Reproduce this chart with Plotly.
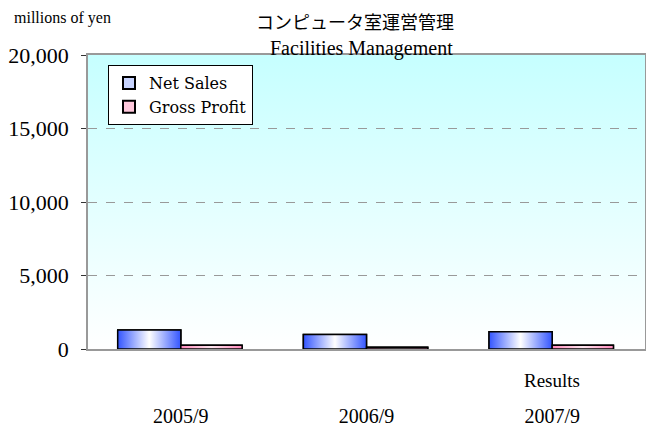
import base64
import plotly.graph_objects as go

categories = ["2005/9", "2006/9", "2007/9"]
net_sales = [1300, 980, 1180]
gross_profit = [250, 120, 250]
y_ticks = [0, 5000, 10000, 15000, 20000]

SERIF = "Liberation Serif"
JP = "Noto Sans CJK JP"

PLOT_L, PLOT_R, PLOT_T, PLOT_B = 88, 645, 55, 349
PW, PH = PLOT_R - PLOT_L, PLOT_B - PLOT_T

def px(x):
    return (x - PLOT_L) / PW

def py(y):
    return (PLOT_B - y) / PH

xs = list(range(len(categories)))
NS_OFF, NS_W = -0.34, 0.34
GP_OFF, GP_W = 0.0, 0.33

fig = go.Figure()

fig.add_trace(go.Bar(x=xs, y=net_sales, name="Net Sales", offset=NS_OFF, width=NS_W,
                     marker=dict(color="#c8d4ff", line=dict(color="black", width=1.5))))
fig.add_trace(go.Bar(x=xs, y=gross_profit, name="Gross Profit", offset=GP_OFF, width=GP_W,
                     marker=dict(color="#ffc8dc", line=dict(color="black", width=1.5))))

blue_scale = [[0, "#3355ff"], [0.5, "#ffffff"], [1, "#3355ff"]]
pink_scale = [[0, "#ff88bb"], [0.5, "#ffe8f0"], [1, "#ff88bb"]]

def add_grad_bar(i, v, off, w, scale):
    x0, x1 = i + off, i + off + w
    fig.add_trace(go.Scatter(
        x=[x0, x0, x1, x1, x0], y=[0, v, v, 0, 0], mode="lines", fill="toself",
        fillgradient=dict(type="horizontal", colorscale=scale),
        line=dict(color="black", width=1.5), showlegend=False, hoverinfo="skip"))

for i, v in zip(xs, net_sales):
    add_grad_bar(i, v, NS_OFF, NS_W, blue_scale)
for i, v in zip(xs, gross_profit):
    add_grad_bar(i, v, GP_OFF, GP_W, pink_scale)

svg = ('<svg xmlns="http://www.w3.org/2000/svg" width="100" height="100" preserveAspectRatio="none">'
       '<defs><linearGradient id="g" x1="0" y1="0" x2="0" y2="1">'
       '<stop offset="0" stop-color="#c6ffff"/><stop offset="1" stop-color="#ffffff"/>'
       '</linearGradient></defs><rect width="100" height="100" fill="url(#g)"/></svg>')
src = "data:image/svg+xml;base64," + base64.b64encode(svg.encode()).decode()

fig.update_layout(
    width=646, height=427,
    margin=dict(l=PLOT_L, r=646 - PLOT_R, t=PLOT_T, b=427 - PLOT_B, autoexpand=False),
    paper_bgcolor="white", plot_bgcolor="rgba(0,0,0,0)",
    barmode="overlay",
    font=dict(family=SERIF, size=18, color="black"),
    images=[dict(source=src, xref="paper", yref="paper", x=0, y=1, sizex=1, sizey=1,
                 sizing="stretch", layer="below")],
    legend=dict(x=px(108), y=py(65), xanchor="left", yanchor="top", bgcolor="white",
                bordercolor="black", borderwidth=1, font=dict(family="DejaVu Serif", size=16),
                itemsizing="constant", tracegroupgap=0, itemwidth=30),
    showlegend=True,
    annotations=[
        dict(text="millions of yen", xref="paper", yref="paper", x=px(12), y=py(18),
             xanchor="left", yanchor="middle", showarrow=False, font=dict(family=SERIF, size=16)),
        dict(text="コンピュータ室運営管理", xref="paper", yref="paper", x=px(355), y=py(21),
             xanchor="center", yanchor="middle", showarrow=False, font=dict(family=JP, size=18)),
        dict(text="Facilities Management", xref="paper", yref="paper", x=px(361), y=py(48),
             xanchor="center", yanchor="middle", showarrow=False, font=dict(family=SERIF, size=20)),
        dict(text="Results", xref="x", yref="paper", x=2, y=py(380),
             xanchor="center", yanchor="middle", showarrow=False, font=dict(family=SERIF, size=19)),
    ],
)

fig.update_xaxes(range=[-0.5, 2.5], tickvals=xs, ticktext=categories, ticks="",
                 showgrid=False, showline=True, linecolor="#999999", linewidth=1.5, mirror=True,
                 ticklabelstandoff=48, zeroline=False, tickfont=dict(size=20), automargin=False)
fig.update_yaxes(range=[0, 20000], tickvals=y_ticks, tickformat=",", ticks="outside",
                 ticklen=5, tickcolor="#333333", showline=True, linecolor="#999999", linewidth=1.5,
                 mirror=True, showgrid=True, gridcolor="#999999", griddash="dash", gridwidth=1,
                 zeroline=False, tickfont=dict(size=22), ticklabelstandoff=8, automargin=False)

fig.write_html("out.html", config={"displayModeBar": False},
               post_script="document.body.style.margin='0';document.body.style.overflow='hidden';")
